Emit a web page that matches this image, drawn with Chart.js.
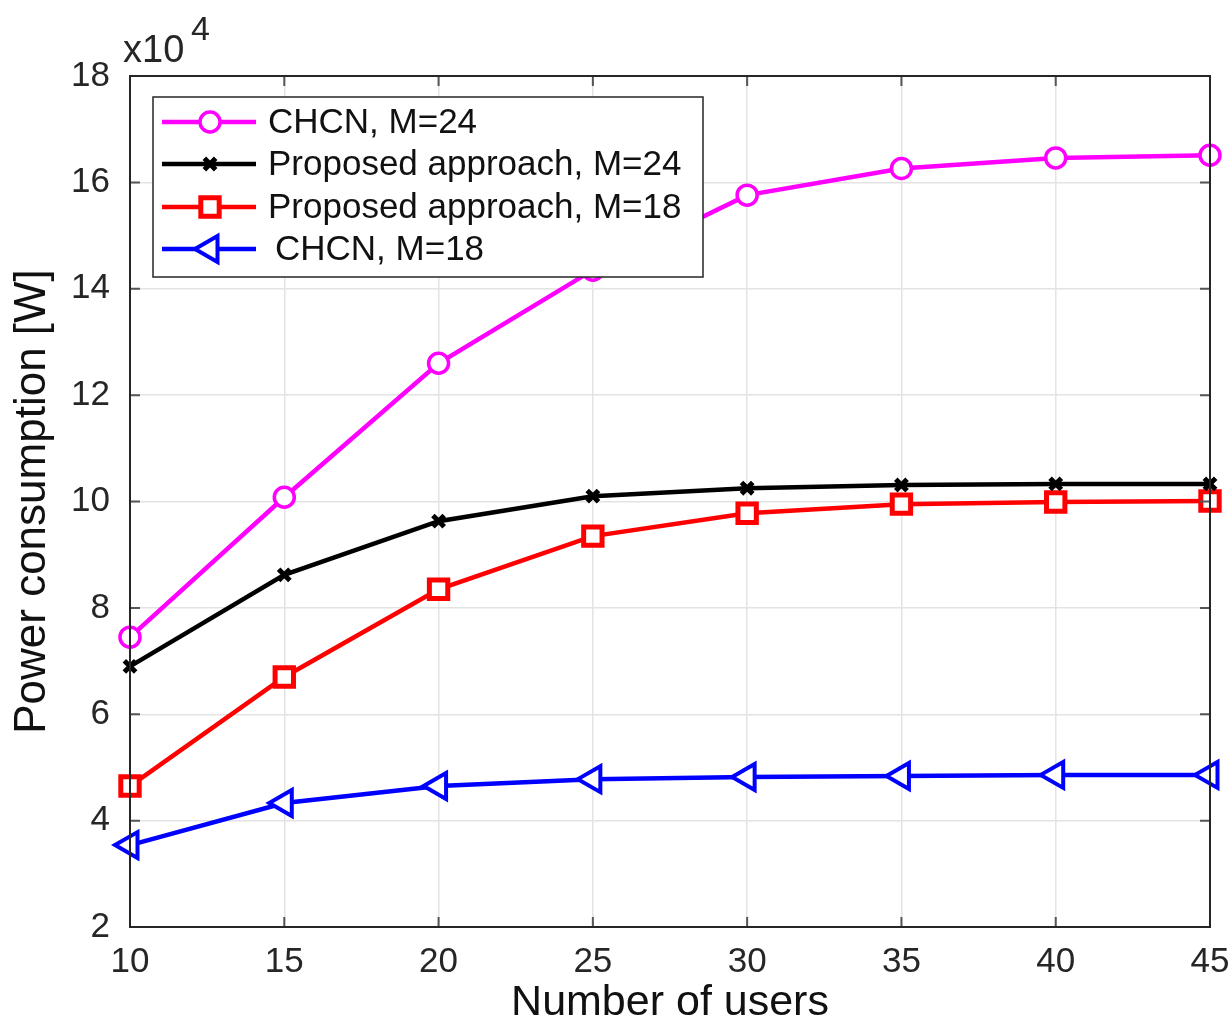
<!DOCTYPE html>
<html>
<head>
<meta charset="utf-8">
<script src="https://cdn.jsdelivr.net/npm/chart.js@4.4.1/dist/chart.umd.min.js"></script>
<style>
  html, body { margin: 0; padding: 0; background: #fff; }
  #wrap { width: 1229px; height: 1032px; }
</style>
</head>
<body>
<div id="wrap"><canvas id="powerChart" width="1229" height="1032"></canvas></div>
<script>
// x axis: number of users
const users = [10, 15, 20, 25, 30, 35, 40, 45];
// power consumption, in units of 1e4 W
const chcn24 = [7.45, 10.08, 12.6, 14.35, 15.76, 16.26, 16.46, 16.51];
const proposed24 = [6.9, 8.62, 9.63, 10.1, 10.25, 10.31, 10.33, 10.33];
const proposed18 = [4.65, 6.7, 8.35, 9.35, 9.78, 9.95, 9.99, 10.01];
const chcn18 = [3.54, 4.33, 4.65, 4.78, 4.82, 4.84, 4.86, 4.86];
const yTicks = [2, 4, 6, 8, 10, 12, 14, 16, 18];
const xTicks = [10, 15, 20, 25, 30, 35, 40, 45];

const labels = ['CHCN, M=24', 'Proposed approach, M=24', 'Proposed approach, M=18', 'CHCN, M=18'];

function pts(ys) {
    return users.map((u, i) => ({ x: u, y: ys[i] }));
}

const FONT = '"Liberation Sans", Arial, sans-serif';
const INK = '#262626';

const datasets = [
    { label: labels[0], data: pts(chcn24), borderColor: '#ff00ff', backgroundColor: '#ffffff',
      pointStyle: 'circle', pointRadius: 10, pointBorderWidth: 3.5 },
    { label: labels[1], data: pts(proposed24), borderColor: '#000000', backgroundColor: '#000000',
      pointStyle: 'crossRot', pointRadius: 8, pointBorderWidth: 5 },
    { label: labels[2], data: pts(proposed18), borderColor: '#ff0000', backgroundColor: '#ffffff',
      pointStyle: 'rect', pointRadius: 13, pointBorderWidth: 5 },
    { label: labels[3], data: pts(chcn18), borderColor: '#0000ff', backgroundColor: '#ffffff',
      pointStyle: 'triangle', pointRadius: 15, pointRotation: -90, pointBorderWidth: 4 }
].map(d => Object.assign({ borderWidth: 4.5, tension: 0, clip: false }, d));

// frame, inward ticks, legend box and the x10^4 exponent
const decorPlugin = {
    id: 'decor',
    afterDatasetsDraw(chart) {
        const ctx = chart.ctx;
        const a = chart.chartArea;
        const xs = chart.scales.x, ys = chart.scales.y;
        ctx.save();
        // inward ticks
        ctx.strokeStyle = '#555';
        ctx.lineWidth = 2;
        ctx.beginPath();
        xTicks.forEach(v => {
            const px = xs.getPixelForValue(v);
            ctx.moveTo(px, a.bottom); ctx.lineTo(px, a.bottom - 10);
            ctx.moveTo(px, a.top); ctx.lineTo(px, a.top + 10);
        });
        yTicks.forEach(v => {
            const py = ys.getPixelForValue(v);
            ctx.moveTo(a.left, py); ctx.lineTo(a.left + 10, py);
            ctx.moveTo(a.right, py); ctx.lineTo(a.right - 10, py);
        });
        ctx.stroke();
        // frame
        ctx.strokeStyle = INK;
        ctx.lineWidth = 2;
        ctx.strokeRect(a.left, a.top, a.right - a.left, a.bottom - a.top);

        // legend
        const bx = 153, by = 97, bw = 550, bh = 180;
        ctx.fillStyle = '#fff';
        ctx.fillRect(bx, by, bw, bh);
        ctx.strokeStyle = INK;
        ctx.lineWidth = 1.5;
        ctx.strokeRect(bx, by, bw, bh);
        const rowY = [122, 164, 207, 249];
        ctx.font = '35px ' + FONT;
        ctx.textBaseline = 'middle';
        chart.data.datasets.forEach((d, i) => {
            const y = rowY[i];
            ctx.strokeStyle = d.borderColor;
            ctx.lineWidth = 4.5;
            ctx.beginPath();
            ctx.moveTo(162, y); ctx.lineTo(256, y);
            ctx.stroke();
            ctx.fillStyle = d.backgroundColor;
            ctx.lineWidth = d.pointBorderWidth;
            Chart.helpers.drawPoint(ctx, {
                pointStyle: d.pointStyle,
                radius: d.pointRadius,
                rotation: d.pointRotation || 0,
                borderWidth: d.pointBorderWidth
            }, 210, y);
            ctx.fillStyle = '#111';
            ctx.fillText(d.label, i === 3 ? 275 : 268, y + 1);
        });

        // exponent label
        ctx.fillStyle = INK;
        ctx.textBaseline = 'alphabetic';
        ctx.font = '38px ' + FONT;
        ctx.fillText('x10', 123, 62);
        ctx.font = '34px ' + FONT;
        ctx.fillText('4', 191, 40);
        ctx.restore();
    }
};

new Chart(document.getElementById('powerChart'), {
    type: 'line',
    data: { datasets: datasets },
    options: {
        responsive: false,
        animation: false,
        layout: { padding: { top: 76, right: 12, left: 0, bottom: 0 } },
        plugins: {
            legend: { display: false },
            tooltip: { enabled: false }
        },
        scales: {
            x: {
                type: 'linear',
                min: 10,
                max: 45,
                afterBuildTicks: s => { s.ticks = xTicks.map(v => ({ value: v })); },
                afterFit: s => { s.height = 105; s.paddingLeft = 0; s.paddingRight = 0; },
                grid: { color: '#e3e3e3', lineWidth: 1.5, drawTicks: false },
                border: { display: false },
                ticks: { color: INK, padding: 14, font: { family: FONT, size: 35 } },
                title: { display: true, text: 'Number of users', color: '#111',
                         font: { family: FONT, size: 43 }, padding: { top: 0, bottom: 3 } }
            },
            y: {
                min: 2,
                max: 18,
                afterBuildTicks: s => { s.ticks = yTicks.map(v => ({ value: v })); },
                afterFit: s => { s.width = 130; s.paddingTop = 0; s.paddingBottom = 0; },
                grid: { color: '#e3e3e3', lineWidth: 1.5, drawTicks: false },
                border: { display: false },
                ticks: { color: INK, padding: 20, font: { family: FONT, size: 35 } },
                title: { display: true, text: 'Power consumption [W]', color: '#111',
                         font: { family: FONT, size: 44 }, padding: { top: 6, bottom: 0 } }
            }
        }
    },
    plugins: [decorPlugin]
});
</script>
</body>
</html>
